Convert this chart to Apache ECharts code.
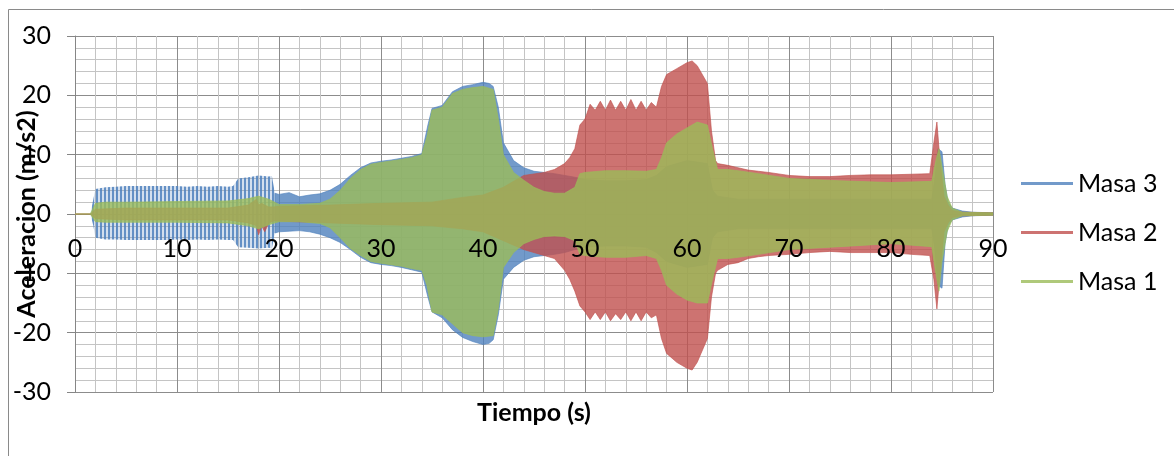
<!DOCTYPE html>
<html>
<head>
<meta charset="utf-8">
<script src="https://cdn.jsdelivr.net/npm/echarts@6/dist/echarts.min.js"></script>
<style>
  html, body { margin: 0; padding: 0; background: #fff; }
  #chart { width: 1174px; height: 456px; }
</style>
</head>
<body>
<div id="chart"></div>
<script>
// Envelopes (upper / lower) of each acceleration record
const tiempoMasa3 = [0, 1.5, 1.8, 2, 3, 4, 5, 6, 7, 8, 9, 10, 11, 12, 13, 14, 15, 15.5, 16, 17, 18, 19, 19.3, 19.6, 20, 21, 22, 23, 24, 25, 26, 27, 28, 29, 30, 31, 32, 33, 34, 34.6, 35, 36, 37, 38, 39, 40, 40.6, 41, 41.5, 42, 43, 44, 45, 46, 47, 48, 49, 50, 52, 54, 56, 57, 58, 60, 62, 62.5, 63, 65, 70, 75, 80, 84, 84.3, 84.6, 85, 85.3, 85.6, 86, 87, 88, 90];
const supMasa3 = [0, 0, 2.5, 4.2, 4.5, 4.6, 4.7, 4.7, 4.7, 4.7, 4.7, 4.7, 4.6, 4.7, 4.6, 4.7, 4.6, 4.7, 6.0, 6.2, 6.5, 6.3, 6.4, 3.5, 3.3, 3.6, 2.9, 3.2, 3.4, 4.0, 5.0, 6.5, 7.8, 8.6, 8.9, 9.1, 9.4, 9.7, 10.2, 15, 17.8, 18.3, 20.6, 21.5, 21.8, 22.2, 22.0, 21.5, 18, 12, 9.0, 7.8, 7.2, 7.0, 6.8, 6.5, 6.2, 5.8, 5.6, 5.6, 5.8, 6.5, 8, 9, 8.5, 4, 3, 2.5, 2.5, 2.5, 2.5, 2.5, 6, 11, 10.5, 5, 2, 1, 0.5, 0.3, 0.2];
const infMasa3 = [0, 0, -2, -4.0, -4.3, -4.3, -4.4, -4.4, -4.4, -4.4, -4.4, -4.3, -4.4, -4.3, -4.4, -4.3, -4.4, -4.4, -5.6, -5.7, -5.8, -5.7, -5.8, -3.2, -3.0, -2.9, -2.8, -3.0, -3.4, -4.0, -4.8, -6.0, -7.3, -8.2, -8.5, -8.7, -9.0, -9.4, -9.8, -14, -16.5, -17.5, -19.5, -20.8, -21.5, -22.0, -21.8, -21.2, -17, -11, -9.0, -7.8, -7.2, -7.0, -6.8, -6.5, -6.0, -5.6, -5.4, -5.4, -5.6, -6.5, -8, -9, -8.5, -4, -3, -2.5, -2.5, -2.5, -2.5, -2.5, -6, -12, -12.5, -5, -2, -1, -0.5, -0.3, -0.2];

const tiempoMasa2 = [0, 1.5, 2, 5, 10, 15, 17, 17.8, 18, 18.3, 18.6, 19, 19.5, 20, 25, 30, 35, 38, 40, 42, 44, 46, 47, 48, 48.5, 49, 49.5, 50, 50.5, 51, 51.5, 52, 52.5, 53, 53.5, 54, 54.5, 55, 55.5, 56, 56.5, 57, 57.5, 58, 59, 60, 60.5, 61, 62, 62.4, 62.8, 63, 64, 65, 66, 67, 68, 70, 72, 74, 76, 78, 80, 82, 83.8, 84.2, 84.5, 84.8, 85.2, 85.6, 86, 87, 90];
const supMasa2 = [0, 0, 0.8, 1.0, 1.0, 1.0, 1.5, 2.5, 1.5, 1.8, 1.5, 1.2, 1.2, 1.3, 1.5, 1.8, 2.0, 2.8, 3.2, 4.5, 6.5, 7.0, 7.5, 8.5, 9.5, 11, 15, 16, 18.5, 17.5, 19, 17.5, 19.2, 17.5, 19, 17.5, 19.3, 17.5, 19, 17.5, 18.8, 18, 21.5, 23.5, 24.5, 25.5, 25.8, 25, 22, 14, 9, 8.5, 8.2, 7.8, 7.4, 7.2, 7.0, 6.5, 6.3, 6.3, 6.5, 6.6, 6.6, 6.7, 6.8, 12, 15.5, 9, 3, 1.5, 0.6, 0.3, 0.2];
const infMasa2 = [0, 0, -0.8, -1.0, -1.0, -1.0, -1.5, -2.0, -3.5, -2.0, -3.0, -1.5, -1.2, -1.2, -1.5, -1.8, -2.0, -2.5, -3.0, -4.5, -6.0, -7.0, -7.5, -9.5, -11, -13, -15.5, -16.5, -17.8, -16.5, -17.8, -16.5, -18, -16.8, -17.8, -16.5, -18, -16.5, -18, -16.5, -17.5, -17, -21, -23.5, -25, -26, -26.3, -25, -21, -14, -10, -9.5, -8.5, -8.2, -7.5, -7.2, -7.0, -6.8, -6.5, -6.3, -6.5, -6.5, -6.5, -6.8, -7, -11, -16, -10, -3, -1.5, -0.6, -0.3, -0.2];

const tiempoMasa1 = [0, 1.5, 2, 3, 5, 10, 15, 17, 18, 19, 20, 22, 24, 25, 26, 27, 28, 29, 30, 32, 33, 34, 34.5, 35, 36, 37, 38, 39, 40, 41, 41.5, 42, 43, 44, 45, 46, 47, 48, 49, 49.5, 50, 52, 54, 56, 57, 57.5, 58, 59, 60, 61, 62, 62.5, 63, 64, 65, 67, 70, 75, 80, 84, 84.4, 84.7, 85, 85.5, 86, 87, 90];
const supMasa1 = [0, 0, 1.8, 2.0, 2.0, 2.1, 2.2, 2.6, 3.0, 2.5, 1.6, 1.6, 1.8, 2.5, 4.0, 6.0, 7.5, 8.4, 8.7, 9.2, 9.5, 10, 13, 17.5, 18.0, 20.3, 21.0, 21.3, 21.5, 21.0, 16, 10, 7.0, 5.7, 4.5, 3.8, 3.5, 3.5, 4.5, 6.8, 7.0, 7.3, 7.3, 7.2, 7.5, 9.5, 12, 13.5, 14.5, 15.5, 15, 11, 7.5, 7.5, 7.3, 6.8, 6.0, 5.6, 5.3, 5.5, 9, 11, 8, 3, 1, 0.3, 0.2];
const infMasa1 = [0, 0, -1.3, -1.4, -1.4, -1.4, -1.5, -2.0, -2.5, -1.8, -1.3, -1.3, -1.6, -2.3, -4.0, -5.8, -7.0, -8.0, -8.3, -8.8, -9.2, -9.5, -12, -16.5, -17.0, -18.5, -20.0, -20.5, -20.7, -20.5, -16, -9, -6.5, -5.0, -4.3, -3.8, -3.7, -3.8, -4.5, -6.8, -7.0, -7.3, -7.3, -7.0, -7.5, -9.5, -12, -13.5, -14.5, -15, -15, -11, -7.5, -7.5, -7.3, -6.8, -6.0, -5.5, -5.0, -5.5, -10, -13, -8, -3, -1, -0.3, -0.2];

const nombres = ['Masa 3', 'Masa 2', 'Masa 1'];
const colores = ['rgba(79,129,189,0.8)', 'rgba(192,80,77,0.8)', 'rgba(155,187,89,0.8)'];
// end of the slow, clearly separated oscillations of Masa 3 (drawn striped)
const finOscilacionLentaMasa3 = 19.6;
const xTicks = { min: 0, max: 90, interval: 10 };
const yTicks = { min: -30, max: 30, interval: 10 };

const FONT = 'Lato';

// vertical-stripe texture for the separated oscillations
const rayas = (function () {
  const c = document.createElement('canvas');
  c.width = 4; c.height = 4;
  const g = c.getContext('2d');
  g.fillStyle = 'rgba(79,129,189,0.88)'; g.fillRect(0, 0, 2, 4);
  g.fillStyle = 'rgba(79,129,189,0.25)'; g.fillRect(2, 0, 2, 4);
  return c;
})();

function poligono(api, data, i0, i1) {
  const pts = [];
  for (let i = i0; i <= i1; i++) pts.push(api.coord([data[i][0], data[i][1]]));
  for (let i = i1; i >= i0; i--) pts.push(api.coord([data[i][0], data[i][2]]));
  return pts;
}

// One filled envelope polygon per record, positioned through the axes (api.coord)
function banda(nombre, color, t, sup, inf, finRayas) {
  const n = Math.min(t.length, sup.length, inf.length);
  const data = [];
  for (let i = 0; i < n; i++) data.push([t[i], sup[i], inf[i]]);
  return {
    name: nombre, type: 'custom', silent: true, clip: true,
    xAxisIndex: 0, yAxisIndex: 0,
    itemStyle: { color: color },
    encode: { x: 0, y: [1, 2] },
    data: data,
    renderItem: function (params, api) {
      if (params.dataIndexInside !== 0) return null;
      if (finRayas == null) {
        return { type: 'polygon', shape: { points: poligono(api, data, 0, n - 1) },
                 style: { fill: color, stroke: color, lineWidth: 0.8 } };
      }
      let k = 0;
      while (k < n - 1 && data[k][0] < finRayas) k++;
      return {
        type: 'group',
        children: [
          { type: 'polygon', shape: { points: poligono(api, data, 0, k) },
            style: { fill: { image: rayas, repeat: 'repeat' }, stroke: null } },
          { type: 'polygon', shape: { points: poligono(api, data, k, n - 1) },
            style: { fill: color, stroke: color, lineWidth: 0.8 } }
        ]
      };
    }
  };
}

const series = [
  banda(nombres[0], colores[0], tiempoMasa3, supMasa3, infMasa3, finOscilacionLentaMasa3),
  banda(nombres[1], colores[1], tiempoMasa2, supMasa2, infMasa2),
  banda(nombres[2], colores[2], tiempoMasa1, supMasa1, infMasa1)
];

const gridLine = { color: '#8c8c8c', width: 1 };
const minorLine = { color: '#c4c4c4', width: 1 };

const chart = echarts.init(document.getElementById('chart'), null, { renderer: 'canvas' });
chart.setOption({
  animation: false,
  backgroundColor: '#fff',
  grid: { left: 75, right: 181, top: 36, bottom: 64, containLabel: false, outerBoundsMode: 'none' },
  graphic: [{
    type: 'rect', left: 6, top: 7, z: -10, silent: true,
    shape: { x: 0, y: 0, width: 1300, height: 600 },
    style: { fill: 'none', stroke: '#8a8a8a', lineWidth: 1 }
  }],
  legend: {
    orient: 'vertical', left: 1016, top: 166,
    itemWidth: 52, itemHeight: 3, itemGap: 24, icon: 'rect',
    textStyle: { fontFamily: FONT, fontSize: 25, color: '#000' },
    data: nombres.map((n, i) => ({ name: n, itemStyle: { color: colores[i] } }))
  },
  xAxis: [{
    // grid lines (drawn beneath the data)
    type: 'value', min: xTicks.min, max: xTicks.max, interval: xTicks.interval,
    position: 'bottom', offset: -178, z: 0,
    axisLine: { onZero: false, lineStyle: { color: '#868686' } },
    axisTick: { show: false },
    axisLabel: { show: false },
    splitLine: { show: true, lineStyle: gridLine },
    minorTick: { show: false, splitNumber: 5 },
    minorSplitLine: { show: true, lineStyle: minorLine }
  }, {
    // tick labels and title, drawn above the data (crossing at y = 0)
    type: 'value', min: xTicks.min, max: xTicks.max, interval: xTicks.interval,
    position: 'bottom', offset: -178, z: 10,
    name: 'Tiempo (s)', nameLocation: 'middle', nameGap: 186, nameMoveOverlap: false,
    nameTextStyle: { fontFamily: FONT, fontSize: 25, fontWeight: 'bold', color: '#000' },
    axisLine: { show: false, onZero: false },
    axisTick: { show: false },
    axisLabel: { fontFamily: FONT, fontSize: 25, color: '#000', margin: 22 },
    splitLine: { show: false }
  }],
  yAxis: {
    type: 'value', min: yTicks.min, max: yTicks.max, interval: yTicks.interval,
    name: 'Aceleracion (m/s2)', nameLocation: 'middle', nameGap: 36, nameMoveOverlap: false,
    nameTextStyle: { fontFamily: FONT, fontSize: 25, fontWeight: 'bold', color: '#000' },
    axisLine: { show: true, onZero: false, lineStyle: { color: '#868686' } },
    axisTick: { show: true, length: 8, lineStyle: { color: '#868686' } },
    axisLabel: { fontFamily: FONT, fontSize: 25, color: '#000', margin: 24 },
    splitLine: { show: true, lineStyle: gridLine },
    minorTick: { show: false, splitNumber: 5 },
    minorSplitLine: { show: true, lineStyle: minorLine }
  },
  series: series
});
</script>
</body>
</html>
